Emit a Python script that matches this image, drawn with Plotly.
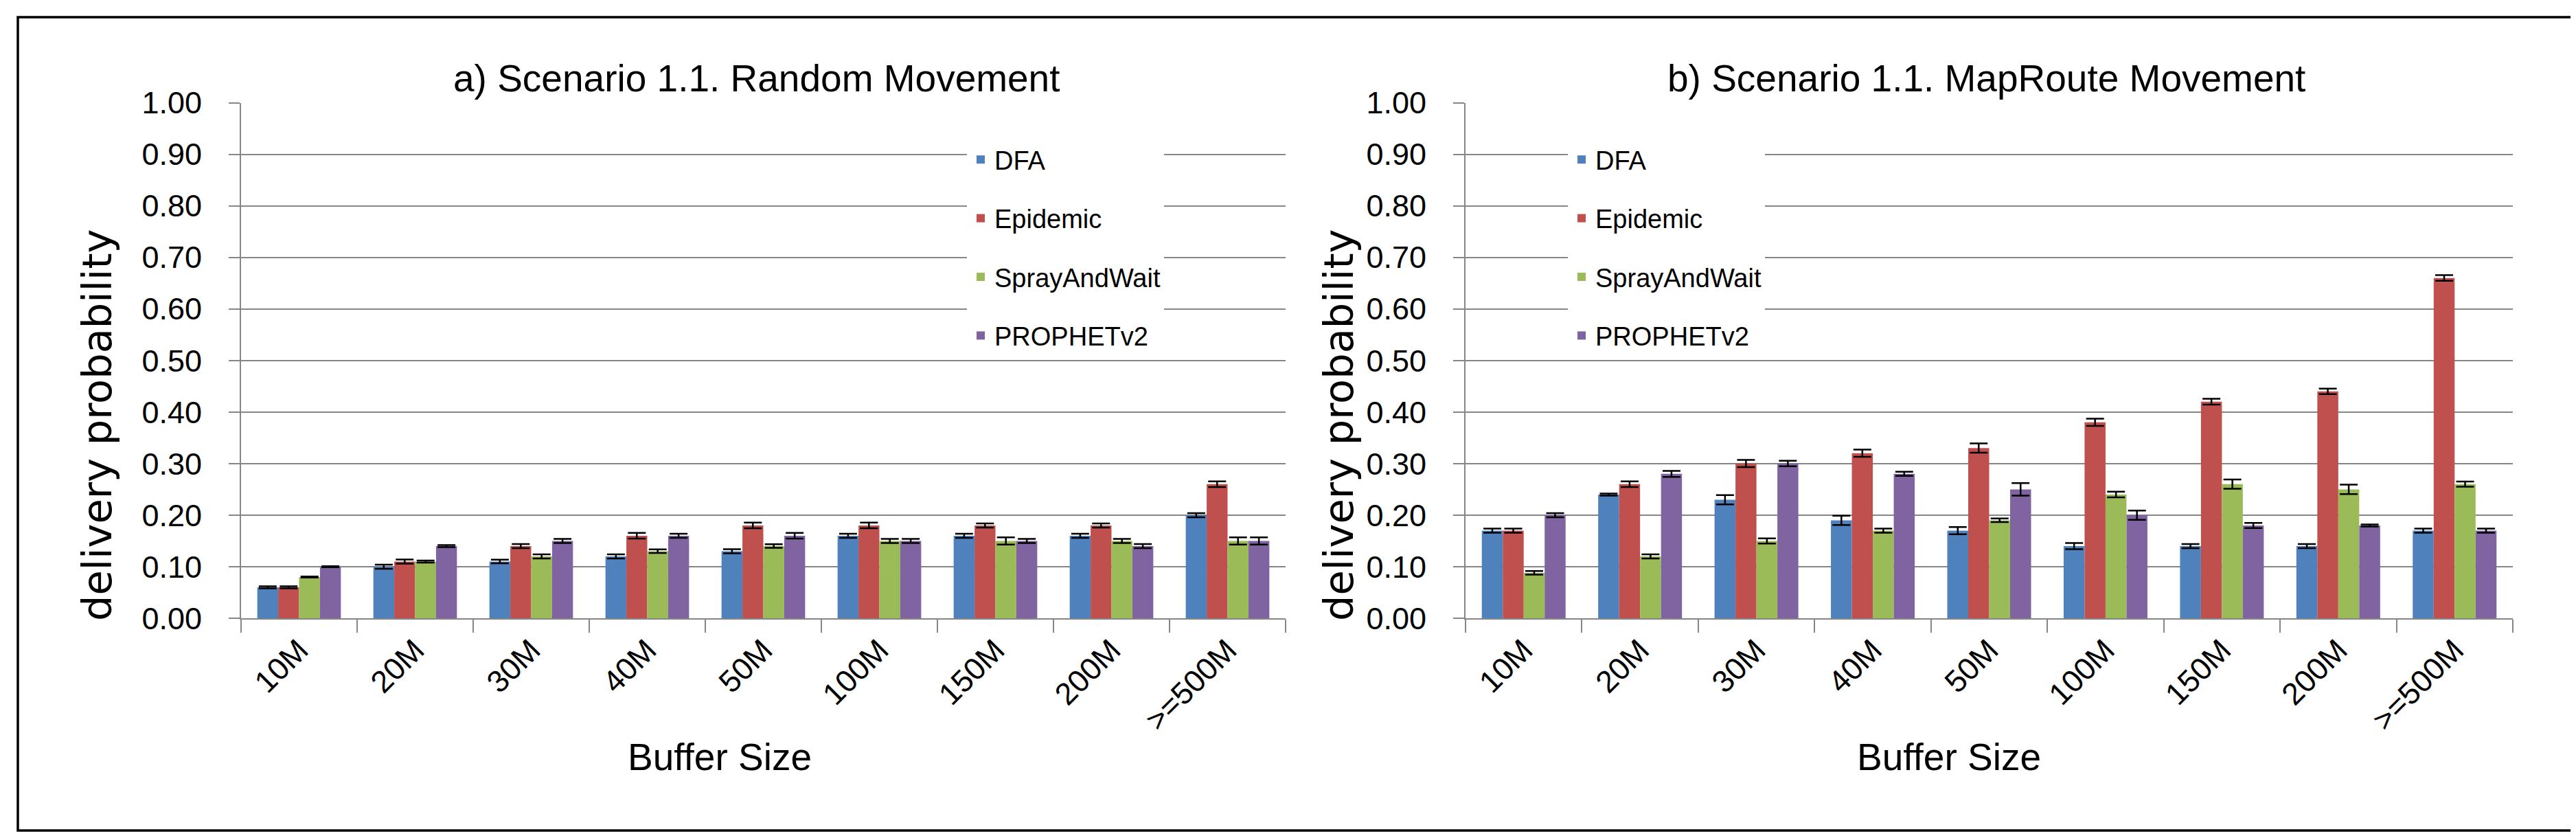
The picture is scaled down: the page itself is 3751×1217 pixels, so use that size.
import plotly.graph_objects as go

categories = ["10M", "20M", "30M", "40M", "50M", "100M", "150M", "200M", ">=500M"]
series_names = ["DFA", "Epidemic", "SprayAndWait", "PROPHETv2"]
colors = ["#4F81BD", "#C0504D", "#9BBB59", "#8064A2"]

# a) Random Movement
random_dfa = [0.06, 0.10, 0.11, 0.12, 0.13, 0.16, 0.16, 0.16, 0.20]
random_epidemic = [0.06, 0.11, 0.14, 0.16, 0.18, 0.18, 0.18, 0.18, 0.26]
random_spray = [0.08, 0.11, 0.12, 0.13, 0.14, 0.15, 0.15, 0.15, 0.15]
random_prophet = [0.10, 0.14, 0.15, 0.16, 0.16, 0.15, 0.15, 0.14, 0.15]
random_dfa_err = [0.002, 0.004, 0.0035, 0.004, 0.004, 0.004, 0.004, 0.004, 0.004]
random_epidemic_err = [0.002, 0.004, 0.004, 0.0055, 0.0055, 0.0055, 0.004, 0.004, 0.0055]
random_spray_err = [0.001, 0.002, 0.004, 0.0035, 0.0035, 0.004, 0.007, 0.004, 0.007]
random_prophet_err = [0.001, 0.002, 0.004, 0.004, 0.0055, 0.004, 0.004, 0.004, 0.007]

# b) MapRoute Movement
map_dfa = [0.17, 0.24, 0.23, 0.19, 0.17, 0.14, 0.14, 0.14, 0.17]
map_epidemic = [0.17, 0.26, 0.30, 0.32, 0.33, 0.38, 0.42, 0.44, 0.66]
map_spray = [0.088, 0.12, 0.15, 0.17, 0.19, 0.24, 0.26, 0.25, 0.26]
map_prophet = [0.20, 0.28, 0.30, 0.28, 0.25, 0.20, 0.18, 0.18, 0.17]
map_dfa_err = [0.004, 0.002, 0.009, 0.009, 0.007, 0.006, 0.004, 0.004, 0.004]
map_epidemic_err = [0.004, 0.0055, 0.007, 0.007, 0.009, 0.007, 0.0056, 0.0054, 0.0054]
map_spray_err = [0.0035, 0.004, 0.005, 0.004, 0.0036, 0.0056, 0.009, 0.009, 0.005]
map_prophet_err = [0.004, 0.0058, 0.0053, 0.004, 0.012, 0.009, 0.005, 0.002, 0.004]

titles = ["a) Scenario 1.1. Random Movement", "b) Scenario 1.1. MapRoute Movement"]
y_title = "delivery probability"
x_title = "Buffer Size"

W, H = 3751, 1217
FONT = "Liberation Sans, Arial, sans-serif"

def px_x(v):
    return v / W

def px_y(v):
    return 1 - v / H

fig = go.Figure()

panels = [
    ([random_dfa, random_epidemic, random_spray, random_prophet],
     [random_dfa_err, random_epidemic_err, random_spray_err, random_prophet_err],
     "x", "y", "legend", "a"),
    ([map_dfa, map_epidemic, map_spray, map_prophet],
     [map_dfa_err, map_epidemic_err, map_spray_err, map_prophet_err],
     "x2", "y2", "legend2", "b"),
]

for vals, errs, xa, ya, lg, tag in panels:
    for name, col, v, e in zip(series_names, colors, vals, errs):
        fig.add_trace(go.Bar(
            x=categories, y=v, name=name, xaxis=xa, yaxis=ya,
            legend=lg, legendgroup=tag + name,
            marker=dict(color=col, line=dict(width=0)),
            error_y=dict(type="data", array=e, visible=True,
                         color="black", thickness=2.5, width=13),
        ))

x1_dom = [px_x(343), px_x(1864)]
x2_dom = [px_x(2126), px_x(3651)]
y_dom = [px_y(892), px_y(141.5)]

axis_y = dict(range=[0, 1], dtick=0.1, tick0=0, tickformat=".2f",
              showgrid=True, gridcolor="#868686", gridwidth=2,
              showline=True, linecolor="#868686", linewidth=2,
              ticks="outside", ticklen=16, tickcolor="#868686", tickwidth=2,
              tickfont=dict(family=FONT, size=45, color="black"),
              ticklabelstandoff=30,
              zeroline=False, automargin=False, domain=y_dom, fixedrange=True)
axis_x = dict(type="category", showline=True, linecolor="#868686", linewidth=2,
              ticks="outside", tickson="boundaries", ticklen=19,
              tickcolor="#868686", tickwidth=2, tickangle=-45,
              tickfont=dict(family=FONT, size=45, color="black"),
              showgrid=False, automargin=False, fixedrange=True)

legend_common = dict(
    font=dict(family=FONT, size=38, color="black"),
    bgcolor="white", borderwidth=0, orientation="v",
    xanchor="left", yanchor="top", tracegroupgap=33,
    itemclick=False, itemdoubleclick=False,
)

annotations = [
    dict(text=titles[0], x=px_x(1094), y=px_y(106), xref="paper", yref="paper",
         showarrow=False, font=dict(family=FONT, size=55, color="black"),
         xanchor="center", yanchor="middle"),
    dict(text=titles[1], x=px_x(2884), y=px_y(106), xref="paper", yref="paper",
         showarrow=False, font=dict(family=FONT, size=55, color="black"),
         xanchor="center", yanchor="middle"),
    dict(text=y_title, x=px_x(133), y=px_y(611), xref="paper", yref="paper",
         showarrow=False, textangle=-90,
         font=dict(family="DejaVu Sans, sans-serif", size=59, color="black"),
         xanchor="center", yanchor="middle"),
    dict(text=y_title, x=px_x(1941), y=px_y(611), xref="paper", yref="paper",
         showarrow=False, textangle=-90,
         font=dict(family="DejaVu Sans, sans-serif", size=59, color="black"),
         xanchor="center", yanchor="middle"),
    dict(text=x_title, x=px_x(1040), y=px_y(1094), xref="paper", yref="paper",
         showarrow=False, font=dict(family=FONT, size=55, color="black"),
         xanchor="center", yanchor="middle"),
    dict(text=x_title, x=px_x(2830), y=px_y(1094), xref="paper", yref="paper",
         showarrow=False, font=dict(family=FONT, size=55, color="black"),
         xanchor="center", yanchor="middle"),
]

fig.update_layout(
    width=W, height=H,
    margin=dict(l=0, r=0, t=0, b=0, autoexpand=False),
    paper_bgcolor="white", plot_bgcolor="white",
    barmode="group", bargap=0.28, bargroupgap=0,
    xaxis=dict(axis_x, domain=x1_dom, anchor="y"),
    yaxis=dict(axis_y, anchor="x"),
    xaxis2=dict(axis_x, domain=x2_dom, anchor="y2"),
    yaxis2=dict(axis_y, anchor="x2"),
    legend=dict(legend_common, x=px_x(1400), y=px_y(193)),
    legend2=dict(legend_common, x=px_x(2275), y=px_y(193)),
    annotations=annotations,
    shapes=[dict(type="rect", xref="paper", yref="paper",
                 x0=px_x(18), x1=px_x(3745), y0=px_y(1201), y1=px_y(17),
                 line=dict(color="black", width=3.5), fillcolor="rgba(0,0,0,0)",
                 layer="above")],
    showlegend=True,
)

fig.write_html("out.html")
